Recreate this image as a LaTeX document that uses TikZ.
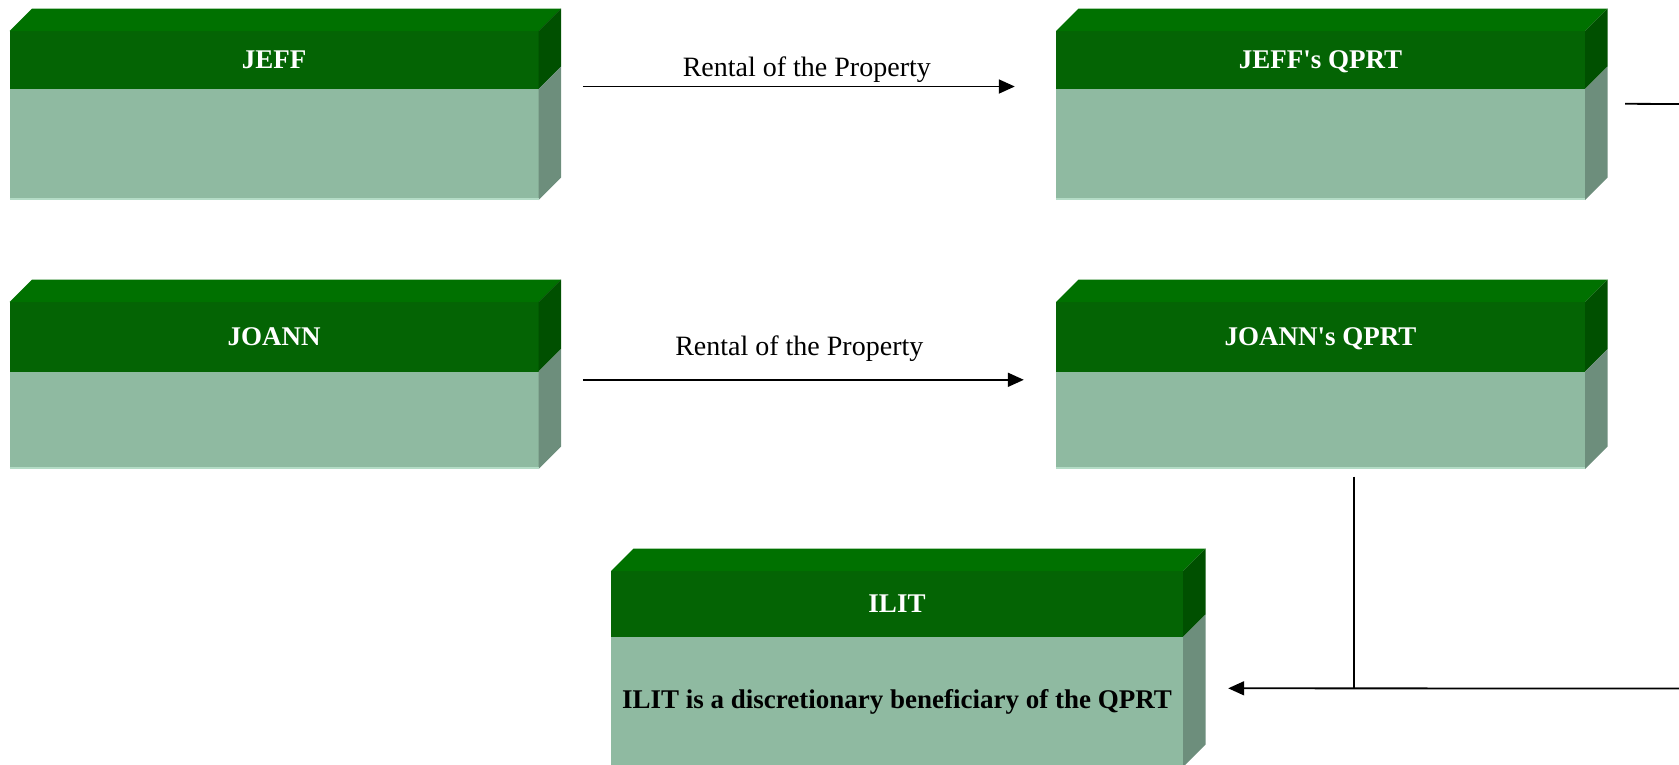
\documentclass[tikz,border=0pt]{standalone}
\usepackage{fontspec}
\setmainfont{Liberation Serif}
\usetikzlibrary{calc,fit,arrows.meta}

\definecolor{topface}{RGB}{0,113,0}
\definecolor{headface}{RGB}{4,100,4}
\definecolor{headside}{RGB}{0,80,0}
\definecolor{bodyface}{RGB}{143,186,161}
\definecolor{bodyside}{RGB}{109,142,124}
\definecolor{bodyedge}{RGB}{180,220,198}

\newcommand\boxdepth{22.5}
% #1 name, #2 left, #3 front top, #4 right, #5 header bottom, #6 bottom, #7 title, #8 body text
\newcommand\solidbox[8]{%
  \fill[bodyface] (#2,#5) rectangle (#4,#6);
  \fill[headface] (#2,#3) rectangle (#4,#5);
  \fill[topface] (#2,#3) -- (#2+\boxdepth,#3-\boxdepth) -- (#4+\boxdepth,#3-\boxdepth) -- (#4,#3) -- cycle;
  \fill[headside] (#4,#3) -- (#4+\boxdepth,#3-\boxdepth) -- (#4+\boxdepth,#5-\boxdepth) -- (#4,#5) -- cycle;
  \fill[bodyside] (#4,#5) -- (#4+\boxdepth,#5-\boxdepth) -- (#4+\boxdepth,#6-\boxdepth) -- (#4,#6) -- cycle;
  \draw[bodyedge, line width=2pt] (#2,#6-1) -- (#4,#6-1);
  \node[fit={(#2,#3) (#4,#6)}, inner sep=0pt] (#1) {};
  \node[titletext] (#1-title) at ($(#2,#3)!.5!(#4,#5)$) {#7};
  \node[bodytext] (#1-body) at ($(#2,#5)!.5!(#4,#6)$) {#8};
}

\tikzset{
  titletext/.style={text=white, font=\fontsize{27}{32}\selectfont\bfseries,
    inner sep=0pt, text height=17.5pt, text depth=0pt},
  bodytext/.style={text=black, font=\fontsize{27}{32}\selectfont\bfseries, inner sep=0pt},
  lbl/.style={text=black, font=\fontsize{28}{33}\selectfont, inner sep=0pt},
  link/.style={line width=1.8pt, black},
  arr/.style={link, -{Triangle[length=16pt,width=14pt]}},
}

\begin{document}
\begin{tikzpicture}[x=1pt, y=-1pt]
  \useasboundingbox (0,0) rectangle (1679,764);
  \clip (0,0) rectangle (1679,764);

  \solidbox{jeff}{9.6}{31}{538.6}{89}{200}{JEFF}{}
  \solidbox{jeffq}{1056}{31}{1585}{89}{200}{JEFF\textquotesingle s QPRT}{}
  \solidbox{joann}{9.6}{302}{538.6}{371.6}{469}{JOANN}{}
  \solidbox{joannq}{1056}{302}{1585}{371.6}{469}{JOANN\textquotesingle s QPRT}{}
  \solidbox{ilit}{611}{571}{1183}{637}{767}{ILIT}{ILIT is a discretionary beneficiary of the QPRT}

  % rental payments into each trust
  \draw[arr] ($(jeff.north east)+(44,55.7)$) -- ($(jeffq.north west)+(-41,55.7)$)
    node[lbl, midway, xshift=8pt, yshift=17pt] (rent1) {Rental of the Property};
  \draw[arr] ($(joann.north east)+(44,78)$) -- ($(joannq.north west)+(-32,78)$)
    node[lbl, midway, xshift=-4pt, yshift=31pt] (rent2) {Rental of the Property};

  % trust outflows toward the ILIT
  \coordinate (edgeA) at (1679,104);
  \coordinate (edgeB) at (1679,688.5);
  \coordinate (join) at ($(joannq.south west)+(298.5,219.5)$);
  \draw[link] ($(jeffq.north east)+(40,73)$) -- (edgeA);
  \draw[link] ($(joannq.south west)+(298.5,7.5)$) -- (join);
  \draw[arr] (edgeB) -- ($(ilit.north east)+(45,117.5)$);
\end{tikzpicture}
\end{document}
